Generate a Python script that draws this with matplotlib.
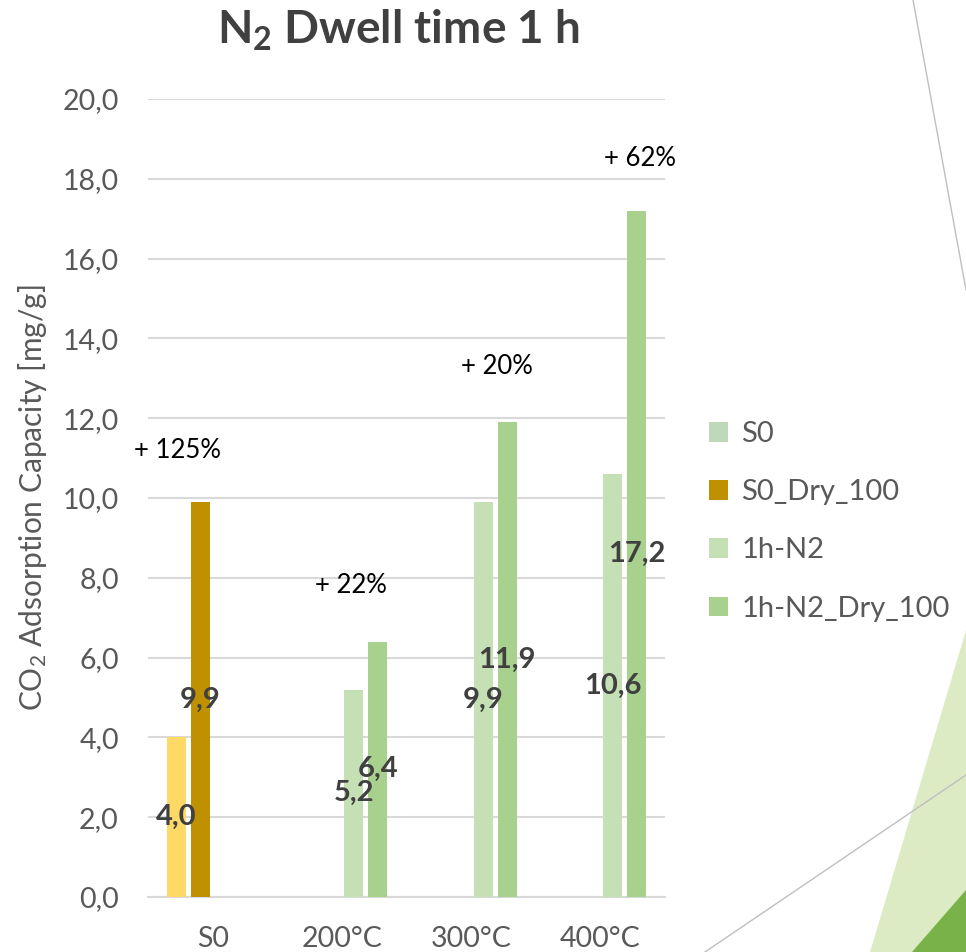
import numpy as np
import matplotlib
matplotlib.use("Agg")
import matplotlib.pyplot as plt
from matplotlib.patches import Patch, Polygon
from matplotlib.lines import Line2D

plt.rcParams['font.family'] = ['Lato', 'DejaVu Sans']
plt.rcParams['mathtext.default'] = 'regular'

# data
categories = ["S0", "200°C", "300°C", "400°C"]
series = ["S0", "S0_Dry_100", "1h-N2", "1h-N2_Dry_100"]
s0 = [4.0, np.nan, np.nan, np.nan]
s0_dry = [9.9, np.nan, np.nan, np.nan]
n2 = [np.nan, 5.2, 9.9, 10.6]
n2_dry = [np.nan, 6.4, 11.9, 17.2]
gains = ["+ 125%", "+ 22%", "+ 20%", "+ 62%"]
gain_y = [11.2, 7.8, 13.3, 18.5]

values = [s0, s0_dry, n2, n2_dry]
colors = ["#BFD8B8", "#BF9000", "#C5E0B4", "#A9D18E"]
bar_colors = ["#FFD966", "#BF9000", "#C5E0B4", "#A9D18E"]

fig = plt.figure(figsize=(9.66, 9.52), dpi=100)
ax = fig.add_axes([148 / 966, 55 / 952, 517 / 966, 798 / 952])
ax.patch.set_alpha(0)

x = np.arange(len(categories))
slot = 0.186
width = 0.147
for i, (vals, c) in enumerate(zip(values, bar_colors)):
    xs = x + (i - 1.5) * slot
    bars = ax.bar(xs, vals, width, color=c, zorder=3)
    for xi, v in zip(xs, vals):
        if not np.isnan(v):
            ax.text(xi, v / 2, f"{v:.1f}".replace(".", ","), ha="center", va="center",
                    fontsize=21, fontweight="bold", color="#404040", zorder=4)

# percentage gains
gain_x = [-0.27, 1.07, 2.2, 3.31]
for gx, gy, g in zip(gain_x, gain_y, gains):
    ax.text(gx, gy, g, ha="center", va="center", fontsize=18.5, color="black")

ax.set_xlim(-0.5, 3.5)
ax.set_ylim(0, 20)
ax.set_yticks(np.arange(0, 21, 2))
ax.set_yticklabels([f"{t:.1f}".replace(".", ",") for t in np.arange(0, 21, 2)])
ax.set_xticks(x)
ax.set_xticklabels(categories)
ax.tick_params(length=0, labelsize=20.5, colors="#595959")
ax.tick_params(axis="y", pad=21)
ax.tick_params(axis="x", pad=21)
ax.grid(axis="y", color="#D9D9D9", linewidth=1.5, zorder=0)
for s in ["top", "right", "left"]:
    ax.spines[s].set_visible(False)
ax.spines["bottom"].set_color("#D9D9D9")
ax.spines["bottom"].set_linewidth(1.5)

ax.set_ylabel("CO$_2$ Adsorption Capacity [mg/g]", fontsize=21.5, color="#595959", labelpad=10)
fig.text(398 / 966, 1 - 30 / 952, "N$_2$ Dwell time 1 h", ha="center", va="center",
         fontsize=33, fontweight="bold", color="#404040")

handles = [Patch(facecolor=c, edgecolor="none") for c in colors]
fig.legend(handles, series, loc="upper left", bbox_to_anchor=(683 / 966, 1 - 395 / 952),
           frameon=False, fontsize=21, labelcolor="#595959", handlelength=0.65,
           handleheight=0.65, handletextpad=0.45, labelspacing=1.1)

# slide background decorations
fig.add_artist(Polygon([[967 / 966, 1 - 627 / 952], [870 / 966, 0], [966 / 966, 0]],
                       closed=True, transform=fig.transFigure, facecolor="#DDEBC5",
                       edgecolor="none", zorder=0))
fig.add_artist(Polygon([[912 / 966, 0], [966 / 966, 1 - 890 / 952], [966 / 966, 0]],
                       closed=True, transform=fig.transFigure, facecolor="#7AB24A",
                       edgecolor="none", zorder=0))
fig.add_artist(Line2D([705 / 966, 966 / 966], [0, 1 - 775 / 952], transform=fig.transFigure,
                      color="#BFBFBF", linewidth=1, zorder=1))
fig.add_artist(Line2D([913 / 966, 966 / 966], [1, 1 - 290 / 952], transform=fig.transFigure,
                      color="#BFBFBF", linewidth=1, zorder=1))

fig.savefig("out.png", dpi=100)
